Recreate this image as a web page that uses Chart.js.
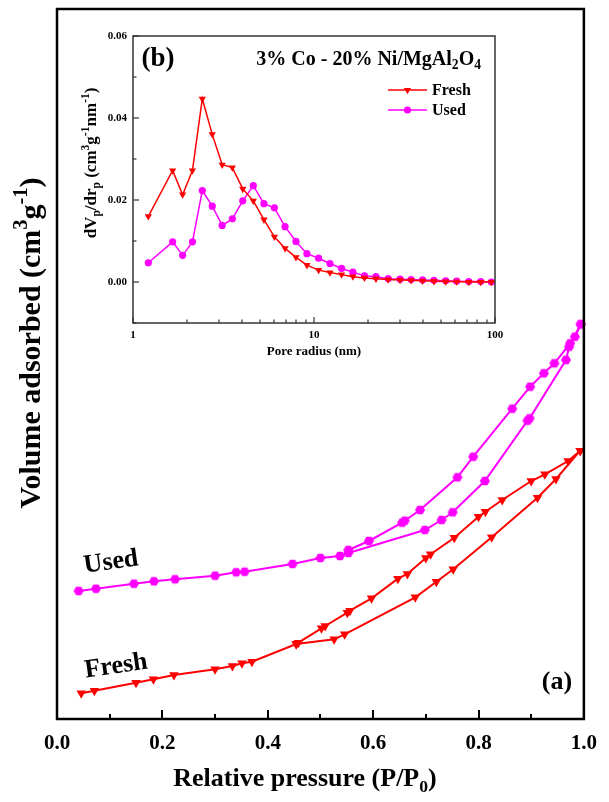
<!DOCTYPE html>
<html><head><meta charset="utf-8"><title>Isotherm and pore size distribution</title>
<script src="https://cdn.jsdelivr.net/npm/chart.js@4.4.1/dist/chart.umd.min.js"></script>
<style>
html,body{margin:0;padding:0;background:#fff;}
#wrap{position:relative;width:609px;height:802px;overflow:hidden;background:#fff;}
#main{position:absolute;left:0;top:0;}
#inset{position:absolute;left:60px;top:20px;}
</style></head><body>
<div id="wrap"><canvas id="main" width="609" height="802"></canvas><canvas id="inset" width="450" height="345"></canvas></div>
<script>
// ---------- DATA: main isotherm (P/P0 vs volume adsorbed, arbitrary units) ----------
const freshAdsP = [0.046,0.071,0.150,0.183,0.222,0.300,0.333,0.351,0.370,0.454,0.526,0.546,0.680,0.720,0.752,0.825,0.912,0.947,0.993];
const freshAdsV = [25.7,28.3,36.3,39.7,44.0,49.7,53.0,55.7,57.3,75.0,79.7,84.7,121.7,137.3,149.7,181.7,221.3,240.0,268.3];
const freshDesP = [0.993,0.970,0.926,0.900,0.845,0.813,0.800,0.754,0.709,0.700,0.665,0.647,0.597,0.556,0.551,0.509,0.502,0.458,0.454];
const freshDesV = [268.3,258.0,244.7,238.0,219.0,207.3,202.3,181.3,164.7,161.0,145.0,140.3,120.7,108.3,106.3,93.0,90.7,76.3,75.0];
const usedAdsP = [0.041,0.074,0.146,0.184,0.224,0.300,0.340,0.356,0.447,0.500,0.537,0.553,0.698,0.730,0.751,0.812,0.893,0.897,0.966,0.972,0.994];
const usedAdsV = [128.0,130.3,135.3,137.7,139.7,143.3,146.7,147.3,155.0,161.0,163.0,166.0,189.0,199.0,206.7,238.0,298.3,300.7,359.0,372.3,394.7];
const usedDesP = [0.994,0.983,0.974,0.944,0.924,0.898,0.864,0.790,0.760,0.689,0.660,0.655,0.592,0.553];
const usedDesV = [394.7,382.3,375.7,355.7,345.7,332.3,310.3,262.3,241.7,209.0,198.3,196.3,178.0,169.0];
const mainXTicks = [0,0.2,0.4,0.6,0.8,1.0];
const mainXMinor = [0.1,0.3,0.5,0.7,0.9];

// ---------- DATA: inset pore size distribution ----------
const poreRadius = [1.215,1.656,1.88,2.13,2.415,2.74,3.11,3.54,4.04,4.62,5.29,6.04,6.92,7.95,9.14,10.6,12.25,14.2,16.4,19.0,22.0,25.7,29.9,34.4,39.8,46,53.4,61.4,71.6,83.4,95.5];
const freshPSD = [0.016,0.0272,0.0213,0.0272,0.0447,0.036,0.0286,0.0279,0.0227,0.0198,0.0152,0.011,0.0082,0.006,0.0041,0.0029,0.0023,0.0018,0.0013,0.001,0.0008,0.0006,0.0005,0.0004,0.0003,0.0002,0.0001,0.0001,0,0,0];
const usedPSD = [0.0047,0.0098,0.0065,0.0098,0.0223,0.0185,0.0138,0.0154,0.0198,0.0235,0.0191,0.0181,0.0135,0.0099,0.0069,0.0058,0.0045,0.0033,0.0024,0.0015,0.0013,0.0008,0.0007,0.0006,0.0005,0.0004,0.0003,0.0002,0.0001,0.0001,0];
const insetXTicks = [1,10,100];
const insetXMinor = [2,3,4,5,6,7,8,9,20,30,40,50,60,70,80,90];
const insetYTicks = [0,0.02,0.04,0.06];
const insetYMinor = [-0.01,0.01,0.03,0.05];

// ---------- helpers ----------
const SERIF = "'Liberation Serif','Times New Roman',Times,serif";
const RED = '#ff0000', MAG = '#ff00ff';
function pts(xs, ys){ return xs.map((x,i)=>({x:x, y:ys[i]})); }
function hexagon(r, color){
  const s = Math.ceil(2*r+2), c = document.createElement('canvas');
  c.width = s; c.height = s;
  const g = c.getContext('2d'); g.fillStyle = color; g.beginPath();
  for (let k=0;k<6;k++){ const a = k*Math.PI/3; const px = s/2 + r*Math.cos(a), py = s/2 + r*Math.sin(a); if(k) g.lineTo(px,py); else g.moveTo(px,py); }
  g.closePath(); g.fill(); return c;
}
function drawRich(ctx, it){
  ctx.save();
  ctx.translate(it.x, it.y); ctx.rotate((it.rot||0)*Math.PI/180);
  ctx.fillStyle = it.color || '#000';
  ctx.textBaseline = it.baseline || 'alphabetic';
  const segs = it.segs.map(s => typeof s === 'string' ? {t:s} : Object.assign({}, s));
  let total = 0;
  segs.forEach(s => { s.size = (s.sup||s.sub) ? it.size*0.68 : it.size; ctx.font = 'bold ' + s.size + 'px ' + SERIF; s.w = ctx.measureText(s.t).width; total += s.w; });
  let cx = it.align === 'center' ? -total/2 : (it.align === 'right' ? -total : 0);
  segs.forEach(s => { ctx.font = 'bold ' + s.size + 'px ' + SERIF; const dy = s.sup ? -it.size*0.42 : (s.sub ? it.size*0.22 : 0); ctx.fillText(s.t, cx, dy); cx += s.w; });
  ctx.restore();
}
const textPlugin = { id:'richTexts', afterDraw(chart, args, o){ (o.items||[]).forEach(it => drawRich(chart.ctx, it)); } };
const framePlugin = {
  id:'frameTicks',
  afterDatasetsDraw(chart, args, o){
    const ctx = chart.ctx, a = chart.chartArea, sx = chart.scales.x, sy = chart.scales.y;
    ctx.save(); ctx.strokeStyle = o.color; ctx.lineWidth = o.tickWidth; ctx.lineCap = 'butt';
    const vline = (v,len) => { const p = Math.round(sx.getPixelForValue(v)); ctx.beginPath(); ctx.moveTo(p, a.bottom); ctx.lineTo(p, a.bottom - len); ctx.stroke(); };
    const hline = (v,len) => { const p = Math.round(sy.getPixelForValue(v)); ctx.beginPath(); ctx.moveTo(a.left, p); ctx.lineTo(a.left + len, p); ctx.stroke(); };
    (o.xMajor||[]).forEach(v => vline(v, o.major));
    (o.xMinor||[]).forEach(v => vline(v, o.minor));
    (o.yMajor||[]).forEach(v => hline(v, o.major));
    (o.yMinor||[]).forEach(v => hline(v, o.minor));
    ctx.lineWidth = o.frameWidth; ctx.lineJoin = 'miter';
    ctx.strokeRect(a.left, a.top, a.right - a.left, a.bottom - a.top);
    ctx.restore();
  }
};
const legendPlugin = {
  id:'insetLegend',
  afterDraw(chart, args, o){
    const ctx = chart.ctx;
    chart.data.datasets.forEach((ds, i) => {
      const y = o.y + i*o.dy;
      ctx.save();
      ctx.strokeStyle = ds.borderColor; ctx.lineWidth = ds.borderWidth;
      ctx.beginPath(); ctx.moveTo(o.x, y); ctx.lineTo(o.x + o.len, y); ctx.stroke();
      ctx.fillStyle = ds.pointBackgroundColor;
      Chart.helpers.drawPoint(ctx, {pointStyle: ds.pointStyle, rotation: ds.pointRotation || 0, radius: ds.pointRadius, borderWidth: 0}, o.x + o.len/2, y);
      ctx.fillStyle = '#000'; ctx.font = 'bold ' + o.size + 'px ' + SERIF; ctx.textBaseline = 'middle';
      ctx.fillText(ds.label, o.x + o.len + 5, y + 1);
      ctx.restore();
    });
  }
};

// ---------- main chart ----------
const hexMain = hexagon(5, MAG);
function mainDs(label, xs, ys, color, style){
  return { label: label, data: pts(xs, ys), showLine: true, borderColor: color, backgroundColor: color,
    borderWidth: 2, pointStyle: style, pointRotation: style === 'triangle' ? 180 : 0, pointRadius: 5.5,
    pointBackgroundColor: color, pointBorderWidth: 0, clip: false, tension: 0 };
}
new Chart(document.getElementById('main'), {
  type: 'scatter',
  data: { datasets: [
    mainDs('Fresh adsorption', freshAdsP, freshAdsV, RED, 'triangle'),
    mainDs('Fresh desorption', freshDesP, freshDesV, RED, 'triangle'),
    mainDs('Used adsorption', usedAdsP, usedAdsV, MAG, hexMain),
    mainDs('Used desorption', usedDesP, usedDesV, MAG, hexMain)
  ]},
  options: {
    responsive: false, animation: false, devicePixelRatio: 1, events: [],
    layout: { padding: { top: 9, right: 14, left: 0, bottom: 0 } },
    scales: {
      x: { type: 'linear', min: 0, max: 1, position: 'bottom',
        afterBuildTicks: s => { s.ticks = mainXTicks.map(v => ({value: v})); },
        afterFit: s => { s.height = 83; },
        ticks: { callback: v => Number(v).toFixed(1), color: '#000', padding: 12, maxRotation: 0, autoSkip: false,
          font: { family: SERIF, size: 21, weight: 'bold' } },
        grid: { display: false, drawTicks: false }, border: { display: false } },
      y: { type: 'linear', min: 0, max: 710,
        afterFit: s => { s.width = 57; },
        ticks: { display: false }, grid: { display: false, drawTicks: false }, border: { display: false } }
    },
    plugins: {
      legend: { display: false }, tooltip: { enabled: false },
      frameTicks: { color: '#000', tickWidth: 2, frameWidth: 2.5, major: 9, minor: 5, xMajor: mainXTicks, xMinor: mainXMinor },
      richTexts: { items: [
        { segs: ['Volume adsorbed (cm', {t:'3', sup:true}, 'g', {t:'-1', sup:true}, ')'], x: 40, y: 343, size: 30, rot: -90, align: 'center' },
        { segs: ['Relative pressure (P/P', {t:'0', sub:true}, ')'], x: 305, y: 786, size: 26, align: 'center' },
        { segs: ['Used'], x: 112, y: 569, size: 26, rot: -8, align: 'center' },
        { segs: ['Fresh'], x: 117, y: 673, size: 26, rot: -8, align: 'center' },
        { segs: ['(a)'], x: 557, y: 682, size: 26, align: 'center', baseline: 'middle' }
      ] }
    }
  },
  plugins: [framePlugin, textPlugin]
});

// ---------- inset chart ----------
function insetDs(label, ys, color, style, r){
  return { label: label, data: pts(poreRadius, ys), showLine: true, borderColor: color, backgroundColor: color,
    borderWidth: 1.5, pointStyle: style, pointRotation: style === 'triangle' ? 180 : 0, pointRadius: r,
    pointBackgroundColor: color, pointBorderWidth: 0, clip: false, tension: 0 };
}
new Chart(document.getElementById('inset'), {
  type: 'scatter',
  data: { datasets: [
    insetDs('Fresh', freshPSD, RED, 'triangle', 4.2),
    insetDs('Used', usedPSD, MAG, 'circle', 3.6)
  ]},
  options: {
    responsive: false, animation: false, devicePixelRatio: 1, events: [],
    layout: { padding: { top: 16, right: 15, left: 0, bottom: 0 } },
    scales: {
      x: { type: 'logarithmic', min: 1, max: 100, position: 'bottom',
        afterBuildTicks: s => { s.ticks = insetXTicks.map(v => ({value: v})); },
        afterFit: s => { s.height = 42; },
        ticks: { callback: v => String(v), color: '#000', padding: 6, maxRotation: 0, autoSkip: false,
          font: { family: SERIF, size: 11, weight: 'bold' } },
        grid: { display: false, drawTicks: false }, border: { display: false } },
      y: { type: 'linear', min: -0.01, max: 0.06,
        afterBuildTicks: s => { s.ticks = insetYTicks.map(v => ({value: v})); },
        afterFit: s => { s.width = 73; },
        ticks: { callback: v => Number(v).toFixed(2), color: '#000', padding: 6,
          font: { family: SERIF, size: 11, weight: 'bold' } },
        grid: { display: false, drawTicks: false }, border: { display: false } }
    },
    plugins: {
      legend: { display: false }, tooltip: { enabled: false },
      frameTicks: { color: '#333', tickWidth: 1.2, frameWidth: 1.5, major: 6, minor: 3.5,
        xMajor: insetXTicks, xMinor: insetXMinor, yMajor: insetYTicks, yMinor: insetYMinor },
      insetLegend: { x: 328, y: 70, dy: 20, len: 39, size: 16 },
      richTexts: { items: [
        { segs: ['dV', {t:'p', sub:true}, '/dr', {t:'p', sub:true}, ' (cm', {t:'3', sup:true}, 'g', {t:'-1', sup:true}, 'nm', {t:'-1', sup:true}, ')'], x: 36, y: 143, size: 17, rot: -90, align: 'center' },
        { segs: ['Pore radius (nm)'], x: 254, y: 332, size: 13, align: 'center', baseline: 'middle' },
        { segs: ['(b)'], x: 98, y: 39, size: 27, align: 'center', baseline: 'middle' },
        { segs: ['3% Co - 20% Ni/MgAl', {t:'2', sub:true}, 'O', {t:'4', sub:true}], x: 421, y: 45, size: 20, align: 'right' }
      ] }
    }
  },
  plugins: [framePlugin, legendPlugin, textPlugin]
});
</script>
</body></html>
